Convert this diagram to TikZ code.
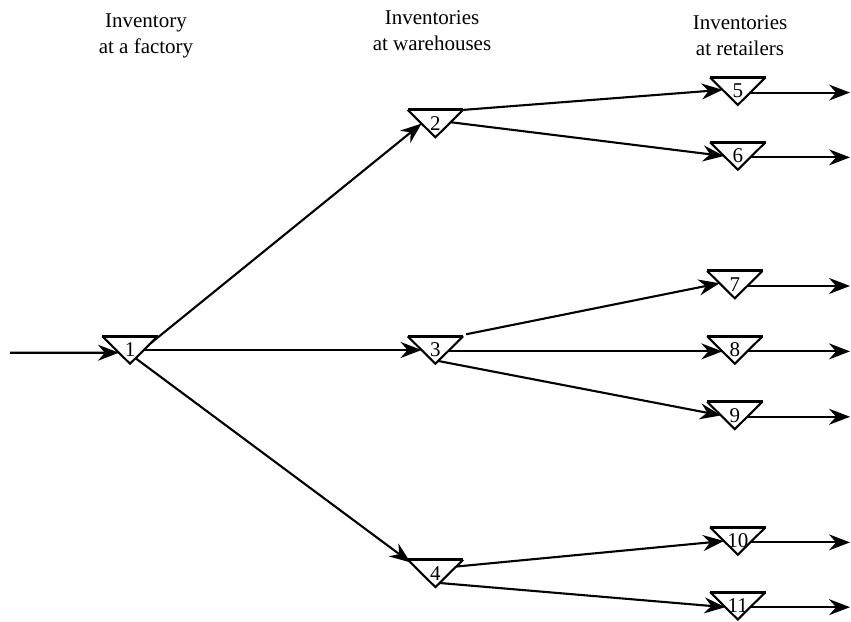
\documentclass[tikz,border=0pt]{standalone}
\usepackage{fontspec}
\setmainfont{Liberation Serif}
\usepackage{tikz}
\usetikzlibrary{positioning, arrows.meta, calc}

\begin{document}
\begin{tikzpicture}[
    stock/.style={minimum width=55pt, minimum height=27pt, inner sep=0pt,
        font=\fontsize{21}{24}\selectfont}, % inverted triangle box
    title/.style={align=center, inner sep=0pt, anchor=north,
        font=\fontsize{21}{26}\selectfont},
    flow/.style={line width=2.1pt, -{Stealth[length=21pt, width=16pt, inset=7pt]}},
    tri/.style={line width=2.1pt, line join=miter}
]
    \useasboundingbox (0,0) rectangle (851pt,-621pt);

    % Column titles
    \node (t1) [title] at (146pt,-14pt) {Inventory\\at a factory};
    \node (t2) [title] at (432pt,-10pt) {Inventories\\at warehouses};
    \node (t3) [title] at (740pt,-15pt) {Inventories\\at retailers};

    % Place the stock points
    \node (n1) [stock] at (130pt,-350pt) {1};
    \node (n3) [stock, right=250pt of n1] {3};
    \node (n2) [stock, above=199pt of n3] {2};
    \node (n4) [stock, below=196pt of n3] {4};
    \node (n5) [stock, above right=5pt and 247pt of n2] {5};
    \node (n6) [stock, below right=5pt and 247pt of n2] {6};
    \node (n8) [stock, right=244pt of n3] {8};
    \node (n7) [stock, above=38pt of n8] {7};
    \node (n9) [stock, below=38pt of n8] {9};
    \node (n10) [stock, above right=5pt and 247pt of n4] {10};
    \node (n11) [stock, below right=5pt and 247pt of n4] {11};

    % Draw the triangles
    \foreach \n in {1,...,11} {
        \draw [tri] (n\n.north west) -- (n\n.south) -- (n\n.north east);
        \draw [line width=3pt] (n\n.north west) -- (n\n.north east);
    }

    % Draw the edges
    \coordinate (in) at (10pt,-352.7pt);
    \coordinate (edge) at (850pt,0pt);
    \draw [flow] (in) -- ($(n1.north west)!0.6!(n1.south)$);
    \draw [flow] ($(n1.north east)!0.25!(n1.south)$) -- ($(n2.north west)!0.5!(n2.south)$);
    \draw [flow] ($(n1.north east)!0.5!(n1.south)$) -- ($(n3.north west)!0.5!(n3.south)$);
    \draw [flow] ($(n1.north east)!0.8!(n1.south)$) -- ($(n4.north west)!0.1!(n4.south)$);

    \draw [flow] (n2.north east) -- ($(n5.north west)!0.45!(n5.south)$);
    \draw [flow] ($(n2.north east)!0.45!(n2.south)$) -- ($(n6.north west)!0.5!(n6.south)$);
    \draw [flow] ($(n3.north east)+(3pt,2pt)$) -- ($(n7.north west)!0.45!(n7.south)$);
    \draw [flow] ($(n3.north east)!0.55!(n3.south)$) -- ($(n8.north west)!0.55!(n8.south)$);
    \draw [flow] ($(n3.north east)!0.9!(n3.south)$) -- ($(n9.north west)!0.5!(n9.south)$);
    \draw [flow] ($(n4.north east)!0.25!(n4.south)$) -- ($(n10.north west)!0.5!(n10.south)$);
    \draw [flow] ($(n4.north east)!0.85!(n4.south)$) -- ($(n11.north west)!0.55!(n11.south)$);

    % Outgoing demand
    \foreach \r in {5,...,11} {
        \draw [flow] ($(n\r.north east)!0.55!(n\r.south)$) coordinate (s\r) -- (s\r -| edge);
    }
\end{tikzpicture}
\end{document}
